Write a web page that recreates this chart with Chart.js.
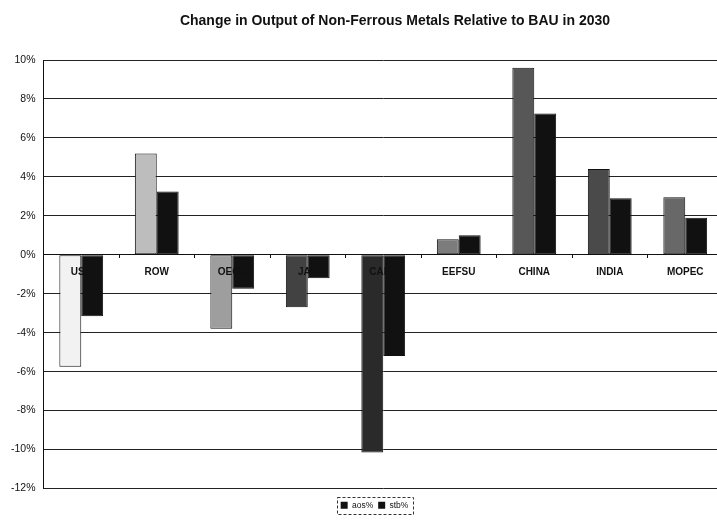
<!DOCTYPE html>
<html>
<head>
<meta charset="utf-8">
<script src="https://cdn.jsdelivr.net/npm/chart.js@4.4.1/dist/chart.umd.min.js"></script>
<style>
html,body{margin:0;padding:0;background:#fff;overflow:hidden;}
#wrap{position:relative;width:717px;height:523px;overflow:hidden;}
#title{position:absolute;left:0;top:12px;width:790px;text-align:center;font:bold 14px "Liberation Sans",Arial,sans-serif;color:#111;}
#c{position:absolute;left:0;top:0;}
</style>
</head>
<body>
<div id="wrap">
  <canvas id="c" width="750" height="523" style="width:750px;height:523px"></canvas>
  <div id="title">Change in Output of Non-Ferrous Metals Relative to BAU in 2030</div>
</div>
<script>
const regions = ['USA','ROW','OECD','JAP','CANZ','EEFSU','CHINA','INDIA','MOPEC'];
const aosVals = [-5.75, 5.2, -3.8, -2.7, -10.15, 0.8, 9.6, 4.4, 2.95];
const stbVals = [-3.15, 3.25, -1.75, -1.2, -5.2, 1.0, 7.25, 2.9, 1.9];
const yMin = -12, yMax = 10, yStep = 2;

// grey shades of the first series, one per region (scan looks stippled)
const aosFill = ['#f2f2f2','#bdbdbd','#9e9e9e','#424242','#2a2a2a','#7c7c7c','#575757','#4a4a4a','#686868'];
const FONT = '"Liberation Sans", Arial, sans-serif';

// excel centres the legend a bit right of where chart.js puts it
const legendShift = {
  id:'legendShift',
  afterLayout(chart){ if(chart.legend) chart.legend.left += 26; }
};

// dashed box round the legend, like the excel one
const legendBox = {
  id:'legendBox',
  afterDraw(chart){
    const lg = chart.legend;
    if(!lg || !lg.legendHitBoxes || !lg.legendHitBoxes.length) return;
    const hb = lg.legendHitBoxes;
    let l = Math.min(...hb.map(b=>b.left)), r = Math.max(...hb.map(b=>b.left+b.width));
    let t = Math.min(...hb.map(b=>b.top)), btm = Math.max(...hb.map(b=>b.top+b.height));
    const ctx = chart.ctx;
    ctx.save();
    ctx.strokeStyle = '#333'; ctx.lineWidth = 1; ctx.setLineDash([3,2]);
    ctx.strokeRect(Math.round(l-4)+0.5, Math.round(t-4)+0.5, Math.round(r-l+8), Math.round(btm-t+8));
    ctx.restore();
  }
};

new Chart(document.getElementById('c'), {
  type:'bar',
  data:{
    labels: regions,
    datasets:[
      { label:'aos%', data:aosVals, backgroundColor:aosFill, borderColor:'#111', borderWidth:1, borderSkipped:false,
        categoryPercentage:0.58, barPercentage:1 },
      { label:'stb%', data:stbVals, backgroundColor:'#111', borderColor:'#111', borderWidth:1, borderSkipped:false,
        categoryPercentage:0.58, barPercentage:1 }
    ]
  },
  options:{
    responsive:false, animation:false,
    layout:{ padding:{ top:60, left:0, right:27, bottom:3.5 } },
    plugins:{
      title:{ display:false },
      tooltip:{ enabled:false },
      legend:{
        position:'bottom',
        title:{ display:true, text:'', font:{ size:1 }, padding:{ top:6.3, bottom:0 } },
        labels:{
          boxWidth:7, boxHeight:7, padding:5, color:'#111',
          font:{ family:FONT, size:8.5 },
          generateLabels(chart){
            return Chart.defaults.plugins.legend.labels.generateLabels(chart)
              .map(it=>Object.assign(it,{ fillStyle:'#111', strokeStyle:'#111', lineWidth:0 }));
          }
        }
      }
    },
    scales:{
      x:{
        position:{ y:0 },
        // small tick marks between the categories on the zero line
        grid:{ display:true, drawOnChartArea:false, drawTicks:true, tickLength:3, offset:true, color:'#111' },
        border:{ display:true, color:'#111', width:1 },
        ticks:{ z:1, color:'#111', padding:8, maxRotation:0, autoSkip:false, font:{ family:FONT, size:10, weight:'bold' } }
      },
      y:{
        min:yMin, max:yMax,
        afterFit(s){ s.width = 43.5; },
        grid:{ color:'#222', lineWidth:1, drawTicks:false },
        border:{ display:true, color:'#111', width:1 },
        ticks:{ stepSize:yStep, padding:8, color:'#111', font:{ family:FONT, size:10.5 }, callback:v=>v+'%' }
      }
    }
  },
  plugins:[legendShift, legendBox]
});
</script>
</body>
</html>
